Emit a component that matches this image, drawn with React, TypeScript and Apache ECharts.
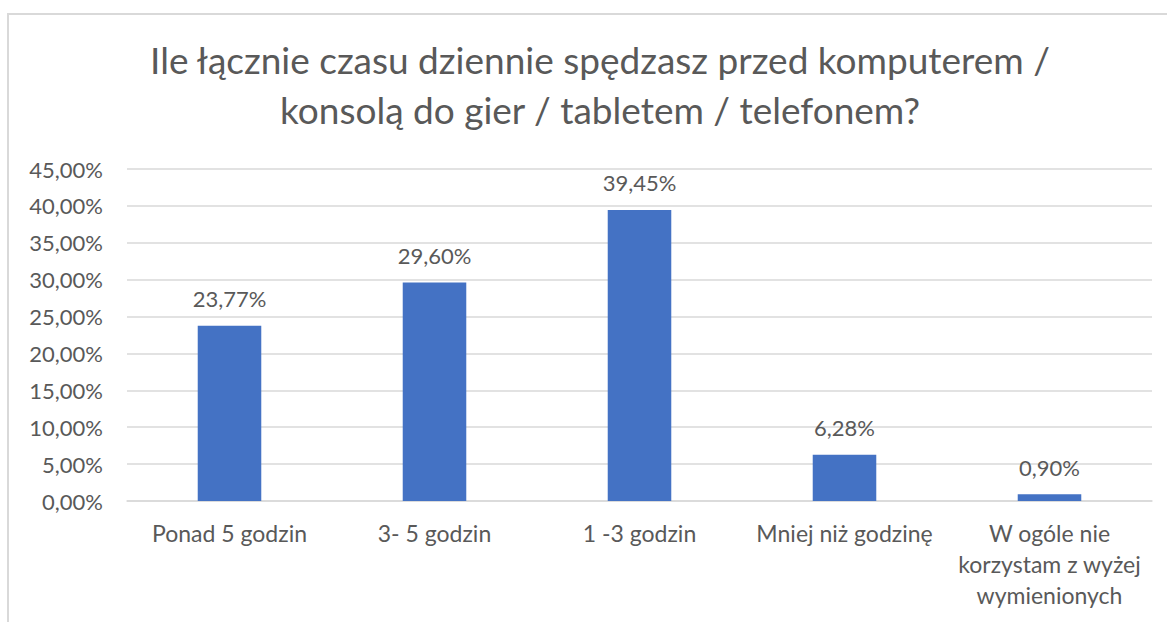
import React, { useEffect, useRef } from "react";
import * as echarts from "echarts";

const categories = [
  "Ponad 5 godzin",
  "3- 5 godzin",
  "1 -3 godzin",
  "Mniej niż godzinę",
  "W ogóle nie\nkorzystam z wyżej\nwymienionych",
];
const values = [23.77, 29.6, 39.45, 6.28, 0.9];
const titleLines = [
  "Ile łącznie czasu dziennie spędzasz przed komputerem /",
  "konsolą do gier / tabletem / telefonem?",
];

const fmt = (v: number) => v.toFixed(2).replace(".", ",") + "%";
const FONT = "Lato";
const GREY = "#595959";

export default function App() {
  const ref = useRef<HTMLDivElement>(null);
  useEffect(() => {
    if (!ref.current) return;
    const chart = echarts.init(ref.current, undefined, { renderer: "svg" });
    chart.setOption({
      animation: false,
      backgroundColor: "#ffffff",
      title: {
        text: titleLines.join("\n"),
        left: 595,
        textAlign: "center",
        top: 29,
        textStyle: {
          fontFamily: FONT,
          fontSize: 37,
          fontWeight: "normal",
          color: GREY,
          lineHeight: 50,
        },
      },
      graphic: [
        {
          type: "rect",
          shape: { x: 8, y: 14, width: 1300, height: 800 },
          style: { fill: "none", stroke: "#d9d9d9", lineWidth: 2 },
          silent: true,
          z: -1,
        },
      ],
      grid: { left: 127, right: 15, top: 169, bottom: 121 },
      xAxis: {
        type: "category",
        data: categories,
        axisLine: { lineStyle: { color: "#d9d9d9", width: 1.5 } },
        axisTick: { show: false },
        axisLabel: {
          fontFamily: FONT,
          fontSize: 23,
          color: GREY,
          margin: 16,
          lineHeight: 31,
          interval: 0,
        },
      },
      yAxis: {
        type: "value",
        min: 0,
        max: 45,
        interval: 5,
        axisLine: { show: false },
        axisTick: { show: false },
        splitLine: { lineStyle: { color: "#d9d9d9", width: 1.5 } },
        axisLabel: {
          fontFamily: FONT,
          fontSize: 22,
          color: GREY,
          margin: 24,
          formatter: (v: number) => fmt(v),
        },
      },
      series: [
        {
          type: "bar",
          data: values,
          barWidth: "31%",
          itemStyle: { color: "#4472C4" },
          label: {
            show: true,
            position: "top",
            distance: 16,
            fontFamily: FONT,
            fontSize: 22,
            color: GREY,
            formatter: (p: any) => fmt(p.value),
          },
        },
      ],
    });
    return () => chart.dispose();
  }, []);
  return (
    <div
      ref={ref}
      style={{ position: "fixed", left: 0, top: 0, width: 1167, height: 622 }}
    />
  );
}
